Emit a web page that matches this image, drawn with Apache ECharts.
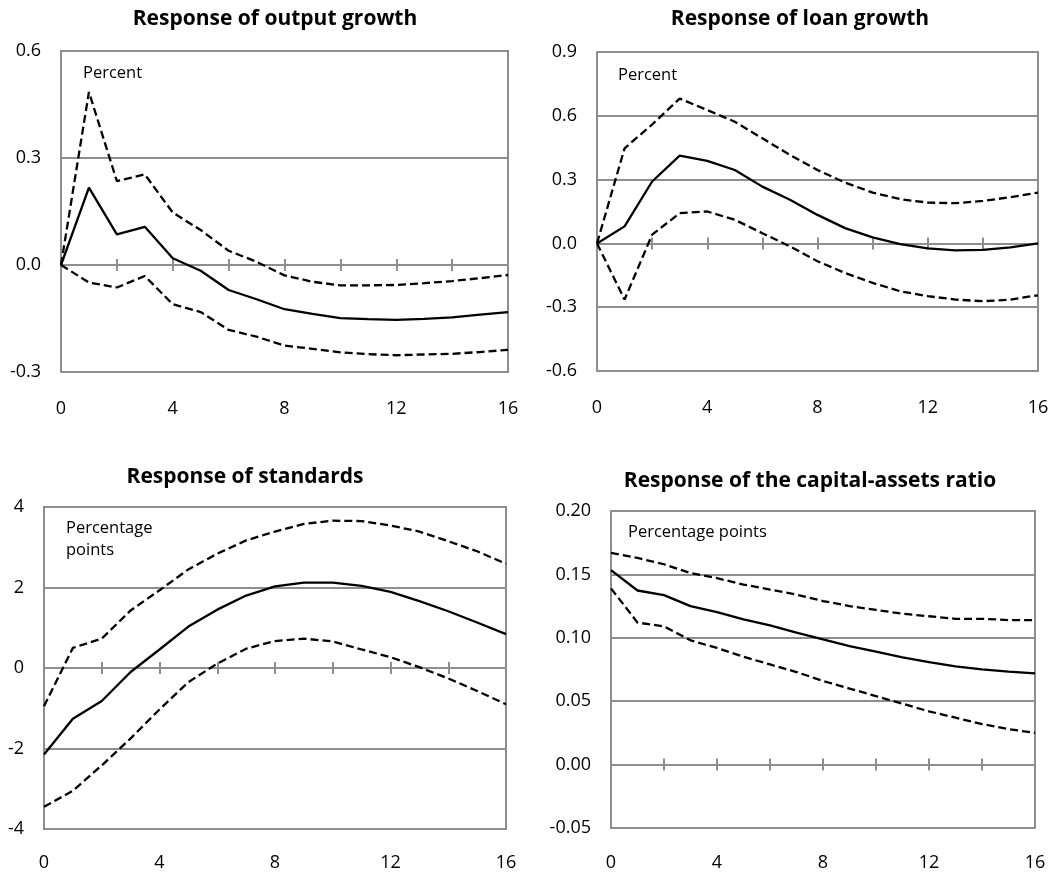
<!DOCTYPE html>
<html>
<head>
<meta charset="utf-8">
<script src="https://cdn.jsdelivr.net/npm/echarts@6/dist/echarts.min.js"></script>
<style>
  html, body { margin: 0; padding: 0; background: #fff; }
  #chart { width: 1055px; height: 877px; }
</style>
</head>
<body>
<div id="chart"></div>
<script>
// Quarters after the shock
const horizon = [0, 1, 2, 3, 4, 5, 6, 7, 8, 9, 10, 11, 12, 13, 14, 15, 16];

// Output growth (percent)
const outputMid = [0, 0.217, 0.086, 0.107, 0.019, -0.016, -0.070, -0.096, -0.124, -0.137, -0.149, -0.152, -0.154, -0.151, -0.147, -0.139, -0.132];
const outputHigh = [0, 0.485, 0.235, 0.254, 0.147, 0.098, 0.040, 0.009, -0.029, -0.047, -0.057, -0.057, -0.056, -0.051, -0.045, -0.037, -0.028];
const outputLow = [0, -0.049, -0.063, -0.031, -0.110, -0.132, -0.182, -0.201, -0.226, -0.235, -0.245, -0.250, -0.253, -0.251, -0.249, -0.244, -0.238];

// Loan growth (percent)
const loanMid = [0, 0.080, 0.291, 0.413, 0.388, 0.345, 0.267, 0.205, 0.134, 0.072, 0.028, -0.003, -0.023, -0.033, -0.030, -0.019, 0];
const loanHigh = [0, 0.447, 0.559, 0.681, 0.627, 0.572, 0.494, 0.416, 0.345, 0.286, 0.239, 0.208, 0.192, 0.189, 0.200, 0.217, 0.239];
const loanLow = [0, -0.264, 0.041, 0.142, 0.150, 0.111, 0.048, -0.014, -0.084, -0.139, -0.186, -0.225, -0.248, -0.264, -0.272, -0.264, -0.244];

// Lending standards (percentage points)
const stdMid = [-2.15, -1.26, -0.82, -0.10, 0.46, 1.03, 1.45, 1.80, 2.03, 2.12, 2.12, 2.04, 1.89, 1.66, 1.41, 1.13, 0.84];
const stdHigh = [-0.95, 0.50, 0.73, 1.43, 1.93, 2.45, 2.84, 3.17, 3.39, 3.58, 3.66, 3.65, 3.54, 3.39, 3.15, 2.90, 2.59];
const stdLow = [-3.45, -3.05, -2.42, -1.75, -1.03, -0.35, 0.11, 0.48, 0.67, 0.73, 0.66, 0.46, 0.27, 0.02, -0.26, -0.57, -0.90];

// Capital-assets ratio (percentage points)
const capMid = [0.1534, 0.1373, 0.1337, 0.1250, 0.1203, 0.1145, 0.1098, 0.1040, 0.0987, 0.0935, 0.0890, 0.0846, 0.0809, 0.0775, 0.0751, 0.0733, 0.0720];
const capHigh = [0.167, 0.163, 0.158, 0.151, 0.147, 0.142, 0.138, 0.134, 0.129, 0.125, 0.122, 0.119, 0.117, 0.115, 0.115, 0.114, 0.114];
const capLow = [0.139, 0.112, 0.109, 0.098, 0.092, 0.085, 0.079, 0.073, 0.066, 0.060, 0.054, 0.048, 0.042, 0.037, 0.032, 0.028, 0.025];

// Panel titles, unit notes and value-axis ranges
const panelTitles = ['Response of output growth', 'Response of loan growth', 'Response of standards', 'Response of the capital-assets ratio'];
const unitNotes = ['Percent', 'Percent', 'Percentage\npoints', 'Percentage points'];
const yMin = [-0.3, -0.6, -4, -0.05];
const yMax = [0.6, 0.9, 4, 0.20];
const yStep = [0.3, 0.3, 2, 0.05];
const yDecimals = [1, 1, 0, 2];
const xStepLabels = 4;
const xStepTicks = 2;

const panelData = [
  [outputMid, outputHigh, outputLow],
  [loanMid, loanHigh, loanLow],
  [stdMid, stdHigh, stdLow],
  [capMid, capHigh, capLow]
];

// Layout of the four plotting areas
const grids = [
  { left: 61, top: 51, width: 447, height: 321 },
  { left: 597, top: 52, width: 441, height: 319 },
  { left: 44, top: 507, width: 462, height: 322 },
  { left: 611, top: 511, width: 424, height: 317 }
];
const titlePos = [
  { x: 275, y: 9 }, { x: 800, y: 9 }, { x: 245, y: 467 }, { x: 810, y: 471 }
];
const notePos = [
  { x: 83, y: 73 }, { x: 618, y: 75 }, { x: 66, y: 539 }, { x: 628, y: 532 }
];
const labelMargins = [28, 28, 25, 26];

const FONT = '"Open Sans", Lato, sans-serif';
const GRID_GREY = '#8e8e8e';

const option = {
  animation: false,
  backgroundColor: '#fff',
  title: panelTitles.map((t, i) => ({
    text: t,
    left: titlePos[i].x,
    top: titlePos[i].y,
    padding: 0,
    textAlign: 'center',
    textStyle: { fontFamily: FONT, fontWeight: 'bold', fontSize: 21, color: '#000' }
  })),
  graphic: unitNotes.map((t, i) => ({
    type: 'text',
    x: notePos[i].x,
    y: notePos[i].y,
    style: { text: t, font: '16.5px ' + FONT, fill: '#000', lineHeight: 22, verticalAlign: 'middle' }
  })),
  grid: grids.map(g => Object.assign({
    show: true, borderColor: GRID_GREY, borderWidth: 2, backgroundColor: 'transparent',
    containLabel: false
  }, g)),
  xAxis: [],
  yAxis: [],
  series: []
};

for (let i = 0; i < 4; i++) {
  // value labels along the bottom edge
  option.xAxis.push({
    type: 'value', gridIndex: i, min: 0, max: 16, interval: xStepLabels, position: 'bottom',
    axisLine: { show: false, onZero: false }, axisTick: { show: false }, splitLine: { show: false },
    axisLabel: { fontFamily: FONT, fontSize: 18, color: '#000', margin: labelMargins[i] }
  });
  // zero line with tick marks crossing it (lower and upper halves)
  [false, true].forEach(inside => {
    option.xAxis.push({
      type: 'value', gridIndex: i, min: 0, max: 16, interval: xStepTicks, position: 'bottom',
      axisLine: { show: true, onZero: true, onZeroAxisIndex: i, lineStyle: { color: GRID_GREY, width: 2 } },
      axisTick: { show: true, inside: inside, length: 6, lineStyle: { color: GRID_GREY, width: 2 } },
      axisLabel: { show: false }, splitLine: { show: false }
    });
  });
  const dec = yDecimals[i];
  option.yAxis.push({
    type: 'value', gridIndex: i, min: yMin[i], max: yMax[i], interval: yStep[i],
    axisLine: { show: false }, axisTick: { show: false },
    splitLine: { show: true, lineStyle: { color: GRID_GREY, width: 2 } },
    axisLabel: {
      fontFamily: FONT, fontSize: 18, color: '#000', margin: 20,
      formatter: v => v.toFixed(dec)
    }
  });
  const [mid, hi, lo] = panelData[i];
  const xIdx = i * 3;
  [[mid, 'solid'], [hi, [8, 4]], [lo, [8, 4]]].forEach(([vals, dash]) => {
    option.series.push({
      type: 'line', xAxisIndex: xIdx, yAxisIndex: i,
      data: vals.map((v, k) => [horizon[k], v]),
      showSymbol: false, symbol: 'none', silent: true,
      lineStyle: { color: '#000', width: 2.3, type: dash }
    });
  });
}

const chart = echarts.init(document.getElementById('chart'), null, { renderer: 'canvas' });
chart.setOption(option);
</script>
</body>
</html>
